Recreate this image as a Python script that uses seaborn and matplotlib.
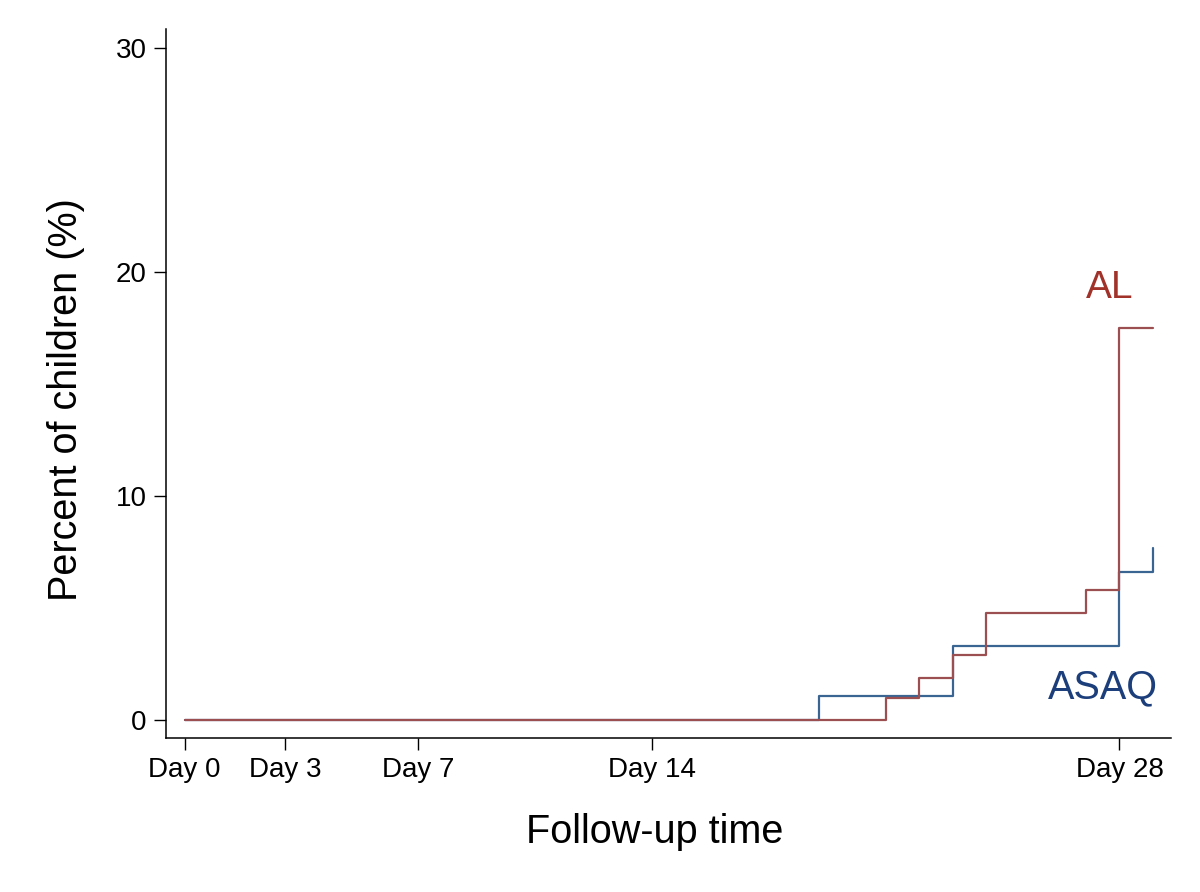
import pandas as pd
import numpy as np
import seaborn as sns
import matplotlib.pyplot as plt

# step data (percent of children, by follow-up day)
asaq_days = [0, 19, 23, 28, 29]
asaq_pct = [0, 1.1, 3.3, 6.6, 7.7]
al_days = [0, 21, 22, 23, 24, 27, 28, 29]
al_pct = [0, 1.0, 1.9, 2.9, 4.8, 5.8, 17.5, 17.5]

tick_days = [0, 3, 7, 14, 28]
tick_labels = ["Day 0", "Day 3", "Day 7", "Day 14", "Day 28"]

df = pd.concat([
    pd.DataFrame({"day": asaq_days, "pct": asaq_pct, "arm": "ASAQ"}),
    pd.DataFrame({"day": al_days, "pct": al_pct, "arm": "AL"}),
])

sns.set_style("white")
plt.rcParams["font.family"] = ["Liberation Sans", "DejaVu Sans"]
plt.rcParams["text.color"] = "black"
plt.rcParams["axes.labelcolor"] = "black"
plt.rcParams["xtick.color"] = "black"
plt.rcParams["ytick.color"] = "black"

fig = plt.figure(figsize=(12, 8.92), dpi=100)
ax = fig.add_axes([0.138, 0.1726, 0.838, 0.7944])

palette = {"ASAQ": "#3a6592", "AL": "#9c4f50"}
sns.lineplot(data=df, x="day", y="pct", hue="arm", palette=palette,
             estimator=None, drawstyle="steps-post", linewidth=1.6,
             legend=False, ax=ax)

ax.text(27.7, 19.3, "AL", color="#a0322a", fontsize=28, ha="center", va="center")
ax.text(27.5, 1.45, "ASAQ", color="#1c3f7c", fontsize=28.5, ha="center", va="center")

ax.set_xlim(-0.57, 29.55)
ax.set_ylim(-0.8, 30.85)
ax.set_xticks(tick_days)
ax.set_xticklabels(tick_labels)
ax.set_yticks([0, 10, 20, 30])

ax.tick_params(axis="both", which="major", labelsize=20, length=8.5,
               width=1, color="black", direction="out", pad=5)
ax.tick_params(left=True, bottom=True)
sns.despine(ax=ax)
for s in ["left", "bottom"]:
    ax.spines[s].set_color("black")
    ax.spines[s].set_linewidth(1.1)

ax.set_xlabel("Follow-up time", fontsize=28.5, labelpad=22)
ax.set_ylabel("Percent of children (%)", fontsize=28.5, labelpad=22)
ax.xaxis.label.set_x(0.486)
ax.yaxis.label.set_y(0.477)

fig.savefig("out.png", dpi=100)
